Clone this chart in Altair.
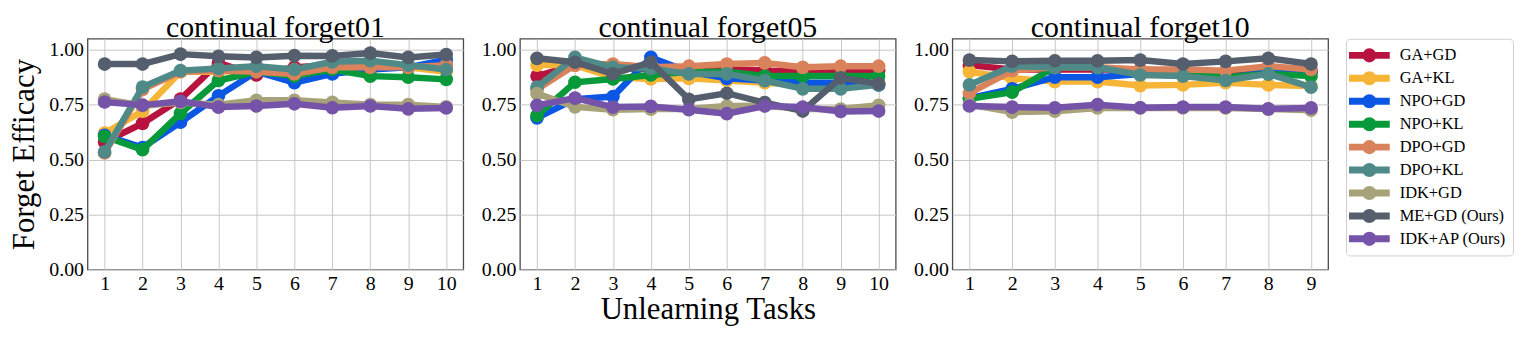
import altair as alt
import pandas as pd

METHODS = ["GA+GD", "GA+KL", "NPO+GD", "NPO+KL", "DPO+GD", "DPO+KL",
           "IDK+GD", "ME+GD (Ours)", "IDK+AP (Ours)"]
COLORS = ["#B8123E", "#F7B538", "#0B57E3", "#08993A", "#D9825B", "#4F8A88",
          "#A8A27A", "#545E6C", "#7453A8"]

TASKS_10 = list(range(1, 11))
TASKS_9 = list(range(1, 10))
Y_TICKS = [0.0, 0.25, 0.5, 0.75, 1.0]

F01 = {
    "GA+GD": [0.58, 0.665, 0.775, 0.94, 0.885, 0.92, 0.93, 0.93, 0.92, 0.93],
    "GA+KL": [0.62, 0.72, 0.90, 0.90, 0.91, 0.91, 0.93, 0.93, 0.92, 0.90],
    "NPO+GD": [0.61, 0.555, 0.67, 0.79, 0.90, 0.85, 0.89, 0.91, 0.92, 0.955],
    "NPO+KL": [0.605, 0.545, 0.71, 0.86, 0.90, 0.88, 0.91, 0.88, 0.875, 0.865],
    "DPO+GD": [0.53, 0.82, 0.90, 0.905, 0.90, 0.89, 0.92, 0.92, 0.92, 0.93],
    "DPO+KL": [0.535, 0.83, 0.905, 0.915, 0.925, 0.91, 0.945, 0.95, 0.93, 0.91],
    "IDK+GD": [0.775, 0.745, 0.76, 0.75, 0.77, 0.77, 0.76, 0.75, 0.75, 0.74],
    "ME+GD (Ours)": [0.935, 0.935, 0.98, 0.97, 0.965, 0.973, 0.972, 0.985, 0.965, 0.978],
    "IDK+AP (Ours)": [0.762, 0.748, 0.765, 0.739, 0.744, 0.754, 0.736, 0.744, 0.731, 0.735],
}
F05 = {
    "GA+GD": [0.88, 0.93, 0.92, 0.91, 0.91, 0.91, 0.905, 0.90, 0.90, 0.905],
    "GA+KL": [0.93, 0.93, 0.875, 0.867, 0.87, 0.86, 0.85, 0.84, 0.85, 0.85],
    "NPO+GD": [0.69, 0.775, 0.787, 0.965, 0.90, 0.87, 0.86, 0.85, 0.85, 0.84],
    "NPO+KL": [0.70, 0.852, 0.867, 0.885, 0.90, 0.90, 0.88, 0.88, 0.88, 0.88],
    "DPO+GD": [0.82, 0.93, 0.935, 0.92, 0.925, 0.935, 0.94, 0.92, 0.925, 0.925],
    "DPO+KL": [0.83, 0.965, 0.92, 0.915, 0.89, 0.89, 0.86, 0.822, 0.822, 0.84],
    "IDK+GD": [0.80, 0.74, 0.727, 0.73, 0.73, 0.744, 0.745, 0.73, 0.73, 0.747],
    "ME+GD (Ours)": [0.961, 0.943, 0.89, 0.943, 0.774, 0.802, 0.759, 0.721, 0.872, 0.845],
    "IDK+AP (Ours)": [0.747, 0.78, 0.739, 0.742, 0.727, 0.709, 0.744, 0.739, 0.719, 0.721],
}
F10 = {
    "GA+GD": [0.93, 0.91, 0.91, 0.91, 0.91, 0.90, 0.90, 0.91, 0.90],
    "GA+KL": [0.90, 0.87, 0.855, 0.855, 0.837, 0.84, 0.85, 0.84, 0.835],
    "NPO+GD": [0.78, 0.822, 0.875, 0.875, 0.89, 0.89, 0.87, 0.90, 0.90],
    "NPO+KL": [0.777, 0.807, 0.92, 0.92, 0.89, 0.895, 0.875, 0.89, 0.88],
    "DPO+GD": [0.802, 0.905, 0.92, 0.92, 0.91, 0.91, 0.905, 0.925, 0.91],
    "DPO+KL": [0.84, 0.925, 0.92, 0.92, 0.885, 0.88, 0.86, 0.89, 0.83],
    "IDK+GD": [0.75, 0.716, 0.72, 0.735, 0.735, 0.735, 0.735, 0.73, 0.725],
    "ME+GD (Ours)": [0.953, 0.947, 0.95, 0.95, 0.953, 0.935, 0.947, 0.961, 0.935],
    "IDK+AP (Ours)": [0.744, 0.739, 0.736, 0.75, 0.736, 0.739, 0.739, 0.731, 0.735],
}

FONT = "Liberation Serif"
color_enc = alt.Color("method:N", scale=alt.Scale(domain=METHODS, range=COLORS), legend=None)


def panel(data, tasks, title, y_title, x_title):
    rows = [{"task": t, "value": v, "method": m}
            for m in METHODS for t, v in zip(tasks, data[m])]
    df = pd.DataFrame(rows)
    span = tasks[-1] - tasks[0]
    x_axis = alt.Axis(values=tasks, format="d", title=x_title) if x_title else \
        alt.Axis(values=tasks, format="d", title=None)
    y_axis = alt.Axis(values=Y_TICKS, format=".2f", title=y_title) if y_title else \
        alt.Axis(values=Y_TICKS, format=".2f", title=None)
    x = alt.X("task:Q", scale=alt.Scale(domain=[tasks[0] - 0.05 * span, tasks[-1] + 0.05 * span],
                                        nice=False, zero=False), axis=x_axis)
    y = alt.Y("value:Q", scale=alt.Scale(domain=[0, 1.05], nice=False), axis=y_axis)
    layers = []
    for m in METHODS:
        base = alt.Chart().transform_filter(alt.datum.method == m).encode(x=x, y=y, color=color_enc)
        layers.append(base.mark_line(strokeWidth=6.5))
        layers.append(base.mark_circle(size=190, opacity=1))
    return alt.layer(*layers, data=df).properties(
        width=378, height=232,
        title=alt.TitleParams(title, font=FONT, fontSize=30, fontWeight="normal", offset=-4),
    )


p1 = panel(F01, TASKS_10, "continual forget01", "Forget Efficacy", None)
p2 = panel(F05, TASKS_10, "continual forget05", None, "Unlearning Tasks")
p3 = panel(F10, TASKS_9, "continual forget10", None, None)

leg_df = pd.DataFrame({"method": METHODS})
ly = alt.Y("method:N", sort=METHODS, axis=None, scale=alt.Scale(padding=0.45))
leg_rule = alt.Chart(leg_df).mark_rule(strokeWidth=7).encode(
    x=alt.value(3), x2=alt.value(44), y=ly, color=color_enc)
leg_dot = alt.Chart(leg_df).mark_circle(size=200, opacity=1).encode(
    x=alt.value(23.5), y=ly, color=color_enc)
leg_txt = alt.Chart(leg_df).mark_text(align="left", baseline="middle", font=FONT,
                                      fontSize=16.5, color="black").encode(
    x=alt.value(54), y=ly, text="method:N")
legend = alt.layer(leg_rule, leg_dot, leg_txt).properties(
    width=168, height=218,
    title=alt.TitleParams(" ", font=FONT, fontSize=30, offset=-1),
    view=alt.ViewBackground(stroke="#d0d0d0", strokeWidth=1, cornerRadius=4),
)

chart = alt.hconcat(p1, p2, p3, legend, spacing=16).properties(
    padding={"left": 0, "top": 0, "right": 0, "bottom": 0}
).configure_view(
    stroke="#4a4a4a", strokeWidth=1.3
).configure_axis(
    labelFont=FONT, labelFontSize=20, labelColor="black",
    titleFont=FONT, titleFontSize=31, titleFontWeight="normal", titleColor="black",
    gridColor="#c8c8c8", gridWidth=1, gridOpacity=1,
    ticks=False, domain=False, labelPadding=4,
).configure_axisY(
    titlePadding=8
).configure_axisX(
    titlePadding=1
)

chart.save("out.html", embed_options={"renderer": "svg", "actions": False})
